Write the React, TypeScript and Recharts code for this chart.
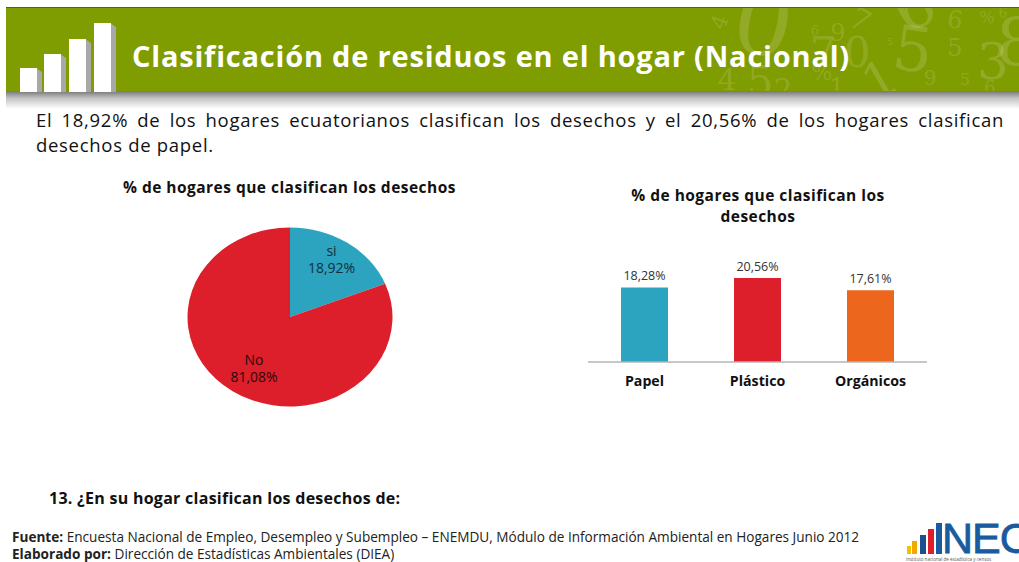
import { BarChart, Bar, Cell, LabelList, PieChart, Pie, XAxis, YAxis } from 'recharts'
import type { CSSProperties } from 'react'

const pieNames = ['si', 'No']
const pieValues = [18.92, 81.08]
const pieColors = ['#2ca3bf', '#dc1f2a']

const barNames = ['Papel', 'Plástico', 'Orgánicos']
const barValues = [18.28, 20.56, 17.61]
const barColors = ['#2ca3bf', '#dc1f2a', '#ec661e']

// faint numbers in the header background
const bgDigits = [
  { t: '0', x: 763, y: 24, s: 92, r: 12 },
  { t: '4', x: 720, y: 22, s: 22, r: -70 },
  { t: '7', x: 860, y: 20, s: 30, r: 30 },
  { t: '9', x: 913, y: 6, s: 60, r: 150 },
  { t: '6', x: 955, y: 20, s: 24, r: 8 },
  { t: '%', x: 987, y: 18, s: 16, r: 0 },
  { t: '6', x: 1003, y: 13, s: 14, r: 0 },
  { t: '5', x: 913, y: 50, s: 62, r: 8 },
  { t: '5', x: 955, y: 48, s: 24, r: 0 },
  { t: '3', x: 993, y: 62, s: 50, r: 0 },
  { t: '8', x: 1017, y: 43, s: 66, r: 0 },
  { t: '9', x: 838, y: 33, s: 24, r: 0 },
  { t: '0', x: 857, y: 53, s: 42, r: 0 },
  { t: '7', x: 823, y: 53, s: 42, r: 0 },
  { t: '4', x: 727, y: 80, s: 30, r: 0 },
  { t: '5', x: 760, y: 82, s: 42, r: 0 },
  { t: '2', x: 783, y: 90, s: 30, r: 0 },
  { t: '%', x: 822, y: 73, s: 22, r: 0 },
  { t: '1', x: 837, y: 88, s: 26, r: 0 },
  { t: '1', x: 880, y: 80, s: 50, r: -30 },
  { t: '9', x: 930, y: 78, s: 20, r: 0 },
  { t: '5', x: 965, y: 80, s: 16, r: 0 },
  { t: '6', x: 990, y: 88, s: 18, r: 0 },
  { t: '6', x: 815, y: 30, s: 13, r: 0 },
  { t: '5', x: 890, y: 42, s: 10, r: 0 },
]

const pieData = pieNames.map((name, i) => ({ name, value: pieValues[i] }))
const barData = barNames.map((name, i) => ({ name, value: barValues[i] }))

const fmt = (v: number) => v.toFixed(2).replace('.', ',') + '%'

const font = '"Open Sans", sans-serif'
const Y_SQUASH = 0.873
// label nudges, the original labels are not on the mid angle
const labelOffsets = [{ dx: 41.5, dy: -65 }, { dx: -36, dy: 59 }]
const labelColors = ['#12303f', '#2a0a0c']

function PieLabel(props: any) {
  const { cx, cy, index, name, value } = props
  const o = labelOffsets[index]
  return (
    <text
      transform={`translate(${cx + o.dx} ${cy + o.dy}) scale(1 ${1 / Y_SQUASH})`}
      textAnchor="middle"
      fontFamily={font}
      fontSize={14}
      fill={labelColors[index]}
    >
      <tspan x={0} dy={-4}>{name}</tspan>
      <tspan x={0} dy={17}>{fmt(value)}</tspan>
    </text>
  )
}

const abs = (left: number, top: number, extra: CSSProperties = {}): CSSProperties => ({
  position: 'absolute', left, top, whiteSpace: 'nowrap', ...extra,
})

export default function App() {
  return (
    <div style={{ position: 'fixed', left: 0, top: 0, width: 1019, height: 562, overflow: 'hidden', background: '#fff', fontFamily: font, color: '#111' }}>
      {/* header band */}
      <div style={abs(6, 91, { width: 1013, height: 18, background: 'linear-gradient(#757575, #c4c4c4 40%, #ffffff)' })} />
      <div style={abs(6, 7, { width: 1013, height: 84, background: '#7f9c00', borderTop: '1px solid #555', boxSizing: 'border-box', overflow: 'hidden' })}>
        {bgDigits.map((d, i) => (
          <span key={i} style={{ position: 'absolute', left: d.x - 6, top: d.y - 8, fontSize: d.s, lineHeight: 1, fontFamily: '"DejaVu Serif", serif', color: 'rgba(255,255,255,0.15)', transform: `translate(-50%, -50%) rotate(${d.r}deg)` }}>{d.t}</span>
        ))}
      </div>
      {[[20, 68], [44, 54], [69, 39], [94, 23]].map(([x, y]) => (
        <div key={x}>
          <div style={abs(x + 16, y, { width: 6, height: 92 - y, background: '#a8a8a8', clipPath: 'polygon(0 0, 100% 4px, 100% 100%, 0 100%)' })} />
          <div style={abs(x, y, { width: 17, height: 92 - y, background: '#fff' })} />
        </div>
      ))}
      <div style={abs(132, 36, { fontSize: 29, fontWeight: 700, color: '#fff', lineHeight: '40px', letterSpacing: 0.8 })}>
        Clasificación de residuos en el hogar (Nacional)
      </div>

      {/* intro text */}
      <div style={abs(36, 107, { fontSize: 18.5, lineHeight: '25px', width: 968, whiteSpace: 'normal', color: '#111', letterSpacing: 0.7 })}>
        <div style={{ textAlign: 'justify', textAlignLast: 'justify' }}>
          El 18,92% de los hogares ecuatorianos clasifican los desechos y el 20,56% de los hogares clasifican
        </div>
        <div>desechos de papel.</div>
      </div>

      {/* pie */}
      <div style={abs(123, 177, { fontSize: 15.5, fontWeight: 700, lineHeight: '20px', letterSpacing: 0.47 })}>% de hogares que clasifican los desechos</div>
      <div style={abs(169.5, 196.5, { width: 240, height: 240, transform: `scaleY(${Y_SQUASH})`, transformOrigin: 'center' })}>
        <PieChart width={240} height={240} margin={{ top: 0, right: 0, bottom: 0, left: 0 }}>
          <Pie
            data={pieData}
            dataKey="value"
            nameKey="name"
            cx={120}
            cy={120}
            outerRadius={102.5}
            startAngle={90}
            endAngle={-270}
            stroke="none"
            label={PieLabel}
            labelLine={false}
            isAnimationActive={false}
          >
            {pieData.map((d, i) => <Cell key={d.name} fill={pieColors[i]} />)}
          </Pie>
        </PieChart>
      </div>

      {/* bars */}
      <div style={abs(608, 185, { width: 300, fontSize: 15.5, fontWeight: 700, lineHeight: '21px', textAlign: 'center', whiteSpace: 'normal', letterSpacing: 0.47 })}>
        % de hogares que clasifican los desechos
      </div>
      <div style={abs(568, 240)}>
        <BarChart width={380} height={160} data={barData} margin={{ top: 20, right: 21, bottom: 8, left: 20 }} barSize={47}>
          <XAxis
            dataKey="name"
            interval={0}
            tickLine={false}
            axisLine={{ stroke: '#b5b5b5', strokeWidth: 1.5 }}
            tick={{ fontSize: 14.2, fontWeight: 700, fill: '#111', fontFamily: font }}
            tickMargin={8}
          />
          <YAxis hide domain={[0, 25]} />
          <Bar dataKey="value" isAnimationActive={false}>
            {barData.map((d, i) => <Cell key={d.name} fill={barColors[i]} />)}
            <LabelList dataKey="value" position="top" offset={7} formatter={(v: any) => fmt(Number(v))} style={{ fontSize: 12.5, fill: '#333', fontFamily: font }} />
          </Bar>
        </BarChart>
      </div>

      {/* question and source */}
      <div style={abs(49, 488, { fontSize: 16, fontWeight: 700, lineHeight: '20px', letterSpacing: 0.27 })}>13. ¿En su hogar clasifican los desechos de:</div>
      <div style={abs(12, 528, { fontSize: 13.6, lineHeight: '18px', color: '#222' })}>
        <b>Fuente:</b> Encuesta Nacional de Empleo, Desempleo y Subempleo – ENEMDU, Módulo de Información Ambiental en Hogares Junio 2012
      </div>
      <div style={abs(12, 545, { fontSize: 13.6, lineHeight: '18px', color: '#222' })}>
        <b>Elaborado por:</b> Dirección de Estadísticas Ambientales (DIEA)
      </div>

      {/* logo */}
      {[[907, 546, '#f2c200', 4], [912, 541, '#f2a900', 5], [920, 535, '#1d4f8f', 6], [928, 529, '#dc1f2a', 6], [936, 523, '#1a5a9f', 6]].map(([x, y, c, w]) => (
        <div key={String(x)} style={abs(x as number, y as number, { width: w as number, height: 554 - (y as number), background: c as string })} />
      ))}
      <div style={abs(942, 514, { fontSize: 43, fontWeight: 400, lineHeight: '48px', color: '#1a5a9f', fontFamily: '"Liberation Sans", sans-serif', letterSpacing: -1, WebkitTextStroke: '0.8px #1a5a9f' })}>NEC</div>
      <div style={abs(906, 556, { fontSize: 4.5, lineHeight: '6px', color: '#555' })}>instituto nacional de estadística y censos</div>
    </div>
  )
}
